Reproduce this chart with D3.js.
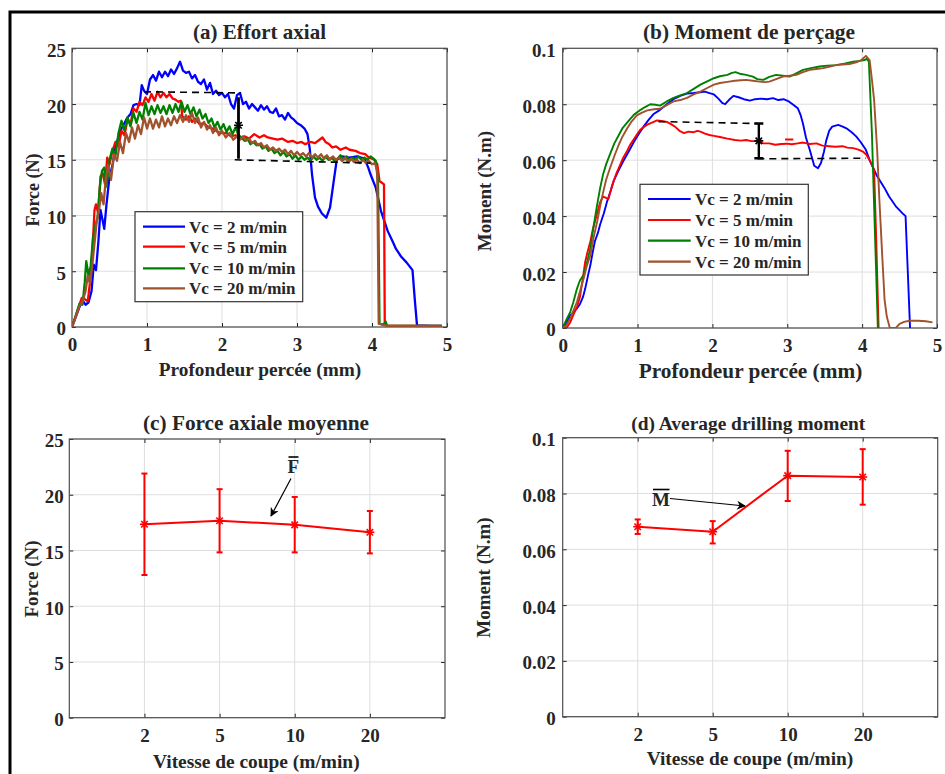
<!DOCTYPE html>
<html><head><meta charset="utf-8">
<script src="https://cdn.jsdelivr.net/npm/d3@7"></script>
<style>
html,body{margin:0;padding:0;background:#fff;}
text{font-family:"Liberation Serif","Times New Roman",serif;font-weight:bold;fill:#262626;}
</style></head>
<body><svg id="chart" width="945" height="774"></svg>
<script>
// ---------- DATA ----------
const depthTicks = [0, 1, 2, 3, 4, 5];
const forceTicks = [0, 5, 10, 15, 20, 25];
const momentTicks = [0, 0.02, 0.04, 0.06, 0.08, 0.1];
const speedPositions = [1, 2, 3, 4];
const speedLabels = ["2", "5", "10", "20"];
const seriesNames = ["Vc = 2 m/min", "Vc = 5 m/min", "Vc = 10 m/min", "Vc = 20 m/min"];
const seriesColors = ["#0000ff", "#ff0000", "#008000", "#a0522d"];

// (a) axial force vs depth [mm, N]
const force2 = [[0,0],[0.05,0.9],[0.1,1.8],[0.14,2.4],[0.18,2.0],[0.22,2.2],[0.26,3.2],[0.29,5.6],[0.32,5.1],[0.35,7.5],[0.38,10.5],[0.41,9.5],[0.43,8.8],[0.46,11.0],[0.5,13.5],[0.54,14.5],[0.58,16.2],[0.62,17.0],[0.66,17.8],[0.7,18.3],[0.74,18.8],[0.78,19.1],[0.82,19.9],[0.86,20.0],[0.9,19.9],[0.93,21.7],[0.96,21.2],[1.0,20.9],[1.04,22.2],[1.08,22.6],[1.12,22.1],[1.16,22.9],[1.2,22.4],[1.24,22.9],[1.28,22.5],[1.32,23.1],[1.36,22.7],[1.4,23.2],[1.44,23.8],[1.48,23.0],[1.52,22.8],[1.56,22.9],[1.6,22.3],[1.64,22.6],[1.68,22.0],[1.72,21.8],[1.76,22.2],[1.8,21.3],[1.84,21.9],[1.88,20.9],[1.92,21.2],[1.96,20.8],[2.0,21.0],[2.04,20.6],[2.08,20.9],[2.12,20.0],[2.16,19.6],[2.2,20.8],[2.24,21.0],[2.28,20.0],[2.32,20.2],[2.36,19.6],[2.4,20.0],[2.44,19.7],[2.48,19.4],[2.52,19.9],[2.56,19.5],[2.6,19.8],[2.64,19.3],[2.68,19.2],[2.72,19.6],[2.76,18.9],[2.8,19.0],[2.84,18.6],[2.88,19.2],[2.92,18.8],[2.96,18.6],[3.0,18.3],[3.05,18.1],[3.1,17.8],[3.14,17.3],[3.17,16.0],[3.2,13.7],[3.24,11.6],[3.28,10.8],[3.33,10.2],[3.39,9.8],[3.44,10.7],[3.49,13.1],[3.53,15.0],[3.6,15.3],[3.7,15.2],[3.8,15.3],[3.9,15.1],[3.95,14.3],[3.98,13.7],[4.05,12.5],[4.12,10.4],[4.21,8.6],[4.28,7.6],[4.32,7.0],[4.39,6.3],[4.46,5.8],[4.54,5.1],[4.57,2.5],[4.6,0.15],[4.8,0.1],[4.93,0.1]];
const force5 = [[0,0],[0.05,1.0],[0.1,2.0],[0.13,2.6],[0.17,2.5],[0.21,2.3],[0.24,4.0],[0.27,6.5],[0.3,10.5],[0.32,11.0],[0.35,10.2],[0.38,13.5],[0.41,13.8],[0.44,12.8],[0.47,15.2],[0.5,14.6],[0.54,15.8],[0.58,16.6],[0.62,16.2],[0.66,17.6],[0.7,17.2],[0.74,18.6],[0.78,18.2],[0.82,19.6],[0.86,19.3],[0.9,20.2],[0.94,19.9],[0.98,20.6],[1.02,20.2],[1.06,20.9],[1.1,20.3],[1.14,21.1],[1.18,20.6],[1.22,21.0],[1.26,20.6],[1.3,20.9],[1.34,20.5],[1.38,20.4],[1.42,20.2],[1.45,20.3],[1.47,18.9],[1.52,18.6],[1.56,18.9],[1.6,18.4],[1.64,18.7],[1.7,18.2],[1.76,18.3],[1.82,17.9],[1.88,17.8],[1.94,17.5],[2.0,17.4],[2.06,17.4],[2.12,17.1],[2.18,17.2],[2.24,16.9],[2.3,17.1],[2.36,16.9],[2.43,17.3],[2.5,17.0],[2.56,17.2],[2.61,17.0],[2.68,16.9],[2.74,16.8],[2.8,16.9],[2.88,16.6],[2.94,16.7],[3.0,16.5],[3.06,16.6],[3.11,16.4],[3.18,16.6],[3.24,16.5],[3.3,16.8],[3.34,17.0],[3.38,16.6],[3.43,16.4],[3.47,16.1],[3.52,16.2],[3.58,15.9],[3.65,16.1],[3.7,15.9],[3.78,15.8],[3.84,15.6],[3.91,15.5],[3.96,15.2],[4.03,15.0],[4.07,14.6],[4.1,13.1],[4.16,12.8],[4.17,0.5],[4.2,0.1],[4.93,0.1]];
const force10 = [[0,0],[0.05,1.0],[0.1,2.1],[0.14,2.0],[0.17,4.0],[0.19,5.9],[0.22,4.6],[0.25,5.5],[0.28,8.0],[0.31,9.0],[0.34,9.8],[0.37,12.5],[0.4,14.0],[0.43,14.3],[0.46,12.6],[0.5,15.0],[0.54,16.0],[0.58,15.4],[0.62,17.4],[0.66,18.5],[0.7,17.6],[0.74,18.8],[0.78,18.0],[0.82,19.2],[0.86,18.3],[0.9,19.3],[0.94,18.6],[0.98,20.1],[1.02,19.0],[1.06,19.8],[1.1,19.1],[1.14,19.9],[1.18,19.2],[1.22,19.8],[1.26,19.1],[1.3,19.9],[1.34,19.2],[1.38,20.0],[1.42,19.3],[1.46,20.2],[1.5,19.3],[1.54,19.9],[1.58,19.1],[1.62,19.7],[1.66,18.9],[1.7,19.5],[1.74,18.7],[1.78,19.1],[1.82,18.3],[1.86,18.7],[1.9,17.9],[1.94,18.4],[1.98,17.7],[2.02,18.2],[2.06,17.5],[2.1,18.0],[2.14,17.3],[2.18,17.9],[2.22,17.2],[2.26,17.0],[2.3,16.7],[2.34,16.9],[2.38,16.4],[2.42,16.6],[2.46,16.3],[2.5,16.4],[2.54,16.0],[2.58,16.2],[2.62,15.8],[2.66,16.0],[2.7,15.6],[2.74,15.8],[2.78,15.4],[2.82,15.7],[2.86,15.3],[2.9,15.5],[2.94,15.1],[2.98,15.4],[3.02,15.0],[3.06,15.3],[3.1,15.0],[3.14,15.2],[3.18,14.9],[3.22,15.3],[3.26,15.0],[3.3,15.2],[3.34,14.9],[3.38,15.3],[3.42,15.0],[3.46,15.2],[3.5,14.9],[3.54,15.1],[3.58,15.4],[3.62,15.0],[3.66,15.3],[3.7,14.9],[3.74,15.2],[3.78,15.0],[3.82,15.3],[3.86,15.0],[3.9,15.2],[3.94,15.0],[3.98,15.3],[4.02,15.1],[4.05,14.9],[4.08,13.0],[4.1,0.3],[4.15,0.2],[4.18,0.5],[4.2,0.1],[4.93,0.1]];
const force20 = [[0,0],[0.05,0.9],[0.1,1.9],[0.14,2.3],[0.18,3.2],[0.21,4.6],[0.24,3.9],[0.27,5.5],[0.3,7.5],[0.33,9.5],[0.36,10.5],[0.39,12.0],[0.42,11.0],[0.45,13.2],[0.48,14.5],[0.52,13.2],[0.56,15.5],[0.6,14.9],[0.64,16.6],[0.68,15.6],[0.72,17.4],[0.76,16.6],[0.8,17.9],[0.84,16.9],[0.88,18.1],[0.92,17.3],[0.96,18.8],[1.0,17.8],[1.04,18.7],[1.08,17.8],[1.12,18.6],[1.16,17.9],[1.2,18.9],[1.24,18.0],[1.28,18.7],[1.32,18.1],[1.36,18.9],[1.4,18.3],[1.44,19.0],[1.48,18.4],[1.52,19.0],[1.56,18.4],[1.6,19.2],[1.64,18.3],[1.68,18.8],[1.72,17.9],[1.76,18.4],[1.8,17.7],[1.84,18.1],[1.88,17.4],[1.92,17.9],[1.96,17.2],[2.0,17.6],[2.05,17.0],[2.1,17.4],[2.15,16.8],[2.2,17.1],[2.24,16.8],[2.28,17.1],[2.32,16.7],[2.36,16.9],[2.4,16.5],[2.44,16.7],[2.48,16.3],[2.52,16.5],[2.56,16.1],[2.6,16.3],[2.64,15.9],[2.68,16.1],[2.72,15.8],[2.76,16.0],[2.8,15.7],[2.84,15.9],[2.88,15.5],[2.92,15.8],[2.96,15.4],[3.0,15.7],[3.04,15.4],[3.08,15.6],[3.12,15.3],[3.16,15.6],[3.2,15.2],[3.24,15.5],[3.28,15.2],[3.32,15.5],[3.36,15.1],[3.4,15.4],[3.44,15.0],[3.48,15.3],[3.52,15.0],[3.56,15.2],[3.6,14.9],[3.64,15.2],[3.68,14.8],[3.72,15.1],[3.76,14.8],[3.8,15.0],[3.84,14.7],[3.88,15.0],[3.92,14.7],[3.96,14.9],[4.0,14.6],[4.04,14.7],[4.07,14.0],[4.09,0.3],[4.2,0.1],[4.5,0.1],[4.93,0.05]];

// (b) drilling moment vs depth [mm, N.m]
const moment2 = [[0,0],[0.05,0.002],[0.1,0.0045],[0.14,0.0055],[0.19,0.007],[0.23,0.0085],[0.27,0.011],[0.3,0.014],[0.34,0.019],[0.37,0.0225],[0.4,0.027],[0.43,0.031],[0.47,0.034],[0.5,0.037],[0.55,0.041],[0.59,0.045],[0.64,0.049],[0.68,0.0525],[0.74,0.056],[0.81,0.0597],[0.88,0.063],[0.95,0.0665],[1.02,0.0695],[1.08,0.072],[1.15,0.0745],[1.21,0.0764],[1.3,0.078],[1.39,0.080],[1.48,0.0818],[1.57,0.083],[1.66,0.0838],[1.75,0.084],[1.84,0.0843],[1.9,0.0845],[1.96,0.084],[2.02,0.0835],[2.08,0.082],[2.13,0.0805],[2.17,0.080],[2.22,0.0815],[2.28,0.083],[2.35,0.0825],[2.42,0.0818],[2.5,0.0813],[2.57,0.0818],[2.65,0.082],[2.73,0.0818],[2.81,0.0822],[2.88,0.0815],[2.95,0.0818],[3.02,0.081],[3.08,0.0798],[3.14,0.0786],[3.18,0.076],[3.21,0.073],[3.25,0.068],[3.3,0.0637],[3.36,0.058],[3.41,0.0571],[3.45,0.059],[3.49,0.063],[3.52,0.067],[3.56,0.0705],[3.6,0.072],[3.68,0.0726],[3.74,0.072],[3.79,0.0714],[3.86,0.070],[3.92,0.0685],[3.98,0.0665],[4.05,0.0637],[4.1,0.060],[4.14,0.0577],[4.19,0.0548],[4.23,0.053],[4.3,0.050],[4.36,0.047],[4.45,0.0435],[4.54,0.041],[4.58,0.040],[4.61,0.020],[4.64,0]];
const moment5 = [[0,0],[0.05,0],[0.1,0.002],[0.14,0.0045],[0.19,0.0075],[0.23,0.011],[0.27,0.018],[0.3,0.0236],[0.33,0.027],[0.37,0.031],[0.4,0.035],[0.43,0.038],[0.47,0.042],[0.5,0.045],[0.54,0.047],[0.58,0.0465],[0.61,0.046],[0.65,0.050],[0.68,0.0525],[0.72,0.0555],[0.77,0.0585],[0.81,0.061],[0.86,0.0633],[0.9,0.0655],[0.95,0.0675],[1.0,0.0695],[1.04,0.071],[1.09,0.072],[1.13,0.0727],[1.2,0.0735],[1.26,0.0742],[1.32,0.074],[1.39,0.0737],[1.44,0.073],[1.5,0.072],[1.56,0.0705],[1.62,0.0697],[1.68,0.0702],[1.75,0.070],[1.8,0.0705],[1.84,0.0702],[1.9,0.0695],[1.96,0.069],[2.02,0.0687],[2.1,0.0683],[2.2,0.0677],[2.3,0.0672],[2.38,0.067],[2.45,0.0672],[2.52,0.0668],[2.6,0.0668],[2.68,0.066],[2.76,0.066],[2.84,0.0655],[2.92,0.0658],[2.99,0.0659],[3.06,0.0657],[3.14,0.066],[3.21,0.0663],[3.3,0.0658],[3.39,0.066],[3.47,0.0652],[3.56,0.065],[3.64,0.0648],[3.74,0.065],[3.8,0.0645],[3.88,0.0643],[3.95,0.0638],[4.01,0.0631],[4.06,0.0618],[4.1,0.060],[4.16,0.0565],[4.19,0.03],[4.22,0]];
const moment5Fragment = [[2.97,0.0674],[3.08,0.0674]];
const moment10 = [[0,0],[0.05,0.003],[0.1,0.0057],[0.14,0.009],[0.19,0.014],[0.23,0.017],[0.28,0.019],[0.32,0.023],[0.37,0.0285],[0.41,0.036],[0.46,0.044],[0.5,0.050],[0.54,0.055],[0.58,0.0585],[0.63,0.062],[0.69,0.066],[0.75,0.069],[0.8,0.0715],[0.86,0.0734],[0.95,0.0762],[1.04,0.078],[1.1,0.079],[1.17,0.080],[1.24,0.0798],[1.3,0.0795],[1.39,0.081],[1.48,0.0823],[1.57,0.0832],[1.66,0.084],[1.75,0.0855],[1.84,0.087],[1.93,0.0882],[2.02,0.0893],[2.1,0.090],[2.2,0.0905],[2.26,0.0912],[2.31,0.0915],[2.38,0.0908],[2.45,0.0905],[2.54,0.0899],[2.6,0.089],[2.68,0.0887],[2.76,0.0898],[2.85,0.0905],[2.94,0.0902],[3.03,0.0899],[3.1,0.0908],[3.21,0.0923],[3.3,0.0928],[3.43,0.0935],[3.54,0.0938],[3.65,0.094],[3.76,0.0945],[3.88,0.0952],[3.97,0.0955],[4.03,0.0958],[4.06,0.0962],[4.09,0.0952],[4.13,0.07],[4.17,0.035],[4.21,0]];
const moment20 = [[0,0],[0.05,0.001],[0.1,0.0034],[0.14,0.006],[0.19,0.0093],[0.23,0.013],[0.28,0.0177],[0.32,0.022],[0.37,0.026],[0.41,0.032],[0.46,0.038],[0.5,0.0435],[0.54,0.0485],[0.58,0.053],[0.63,0.057],[0.69,0.0615],[0.75,0.0656],[0.8,0.0685],[0.86,0.0713],[0.92,0.0738],[0.99,0.076],[1.06,0.077],[1.13,0.0778],[1.22,0.0782],[1.3,0.0784],[1.39,0.0797],[1.48,0.081],[1.57,0.0815],[1.66,0.0823],[1.75,0.0835],[1.84,0.0845],[1.93,0.0858],[2.02,0.087],[2.1,0.0876],[2.2,0.088],[2.3,0.0884],[2.38,0.0886],[2.45,0.0887],[2.54,0.0884],[2.63,0.0881],[2.7,0.0879],[2.76,0.0881],[2.85,0.089],[2.94,0.0899],[3.03,0.0902],[3.12,0.0905],[3.21,0.0915],[3.3,0.0923],[3.39,0.0926],[3.48,0.0929],[3.57,0.0935],[3.65,0.094],[3.74,0.0942],[3.83,0.0944],[3.92,0.095],[3.99,0.0958],[4.05,0.0973],[4.1,0.0958],[4.13,0.089],[4.16,0.0815],[4.2,0.064],[4.23,0.046],[4.27,0.025],[4.3,0.01],[4.33,0.004],[4.37,0],[4.45,0],[4.5,0.0015],[4.56,0.0022],[4.63,0.0026],[4.75,0.0026],[4.85,0.0024],[4.94,0.002]];

// dashed guides and range bars on (a) and (b)
const forceDashTop = [[0.96,21.1],[2.25,21.0]];
const forceDashBottom = [[2.17,15.0],[3.98,14.7]];
const forceRange = [2.22, 15.1, 18.1, 20.6];   // depth, low, mean, high
const momentDashTop = [[1.28,0.0738],[2.6,0.0731]];
const momentDashBottom = [[2.6,0.0605],[4.05,0.0607]];
const momentRange = [2.62, 0.0607, 0.0669, 0.0731];

// (c) mean axial force per cutting speed
const meanForce = [17.35, 17.67, 17.3, 16.63];
const forceLow = [12.8, 14.83, 14.83, 14.74];
const forceHigh = [21.9, 20.5, 19.8, 18.54];
// (d) mean drilling moment per cutting speed
const meanMoment = [0.0681, 0.0663, 0.0864, 0.0859];
const momentLow = [0.0655, 0.0621, 0.0773, 0.0760];
const momentHigh = [0.0707, 0.0701, 0.0953, 0.0959];

// ---------- DRAWING ----------
const svg = d3.select("#chart");
const FONT = '"Liberation Serif","Times New Roman",serif';
const TXT = "#262626";

svg.append("rect").attr("x", 10).attr("y", 12).attr("width", 1000).attr("height", 1000)
  .attr("fill", "none").attr("stroke", "#000").attr("stroke-width", 3);

let clipId = 0;
function makePanel(o) {
  const x = d3.scaleLinear().domain([0, 5]).range([o.l, o.r]);
  const y = d3.scaleLinear().domain(o.yDomain).range([o.b, o.t]);
  const g = svg.append("g");
  g.append("rect").attr("x", o.l).attr("y", o.t).attr("width", o.r - o.l).attr("height", o.b - o.t).attr("fill", "#fff");
  // grid
  g.append("g").selectAll("line").data(o.xTicks).join("line")
    .attr("x1", d => x(d)).attr("x2", d => x(d)).attr("y1", o.t).attr("y2", o.b)
    .attr("stroke", "#dedede").attr("stroke-width", 1);
  g.append("g").selectAll("line").data(o.yTicks).join("line")
    .attr("x1", o.l).attr("x2", o.r).attr("y1", d => y(d)).attr("y2", d => y(d))
    .attr("stroke", "#dedede").attr("stroke-width", 1);
  // axes
  const fmtX = o.xLabels ? (d => o.xLabels[o.xTicks.indexOf(d)]) : d3.format("d");
  const ax = g.append("g").attr("transform", `translate(0,${o.b})`)
    .call(d3.axisBottom(x).tickValues(o.xTicks).tickSize(-4).tickSizeOuter(0).tickFormat(fmtX));
  ax.selectAll("text").attr("dy", null).attr("y", 24);
  const axT = g.append("g").attr("transform", `translate(0,${o.t})`)
    .call(d3.axisTop(x).tickValues(o.xTicks).tickSize(-4).tickSizeOuter(0).tickFormat(""));
  const ay = g.append("g").attr("transform", `translate(${o.l},0)`)
    .call(d3.axisLeft(y).tickValues(o.yTicks).tickSize(-4).tickSizeOuter(0).tickFormat(o.yFormat));
  ay.selectAll("text").attr("dy", "0.42em").attr("x", -o.yPad);
  const ayR = g.append("g").attr("transform", `translate(${o.r},0)`)
    .call(d3.axisRight(y).tickValues(o.yTicks).tickSize(-4).tickSizeOuter(0).tickFormat(""));
  [ax, axT, ay, ayR].forEach(a => {
    a.attr("font-family", FONT).attr("font-size", 19);
    a.select(".domain").remove();
    a.selectAll("line").attr("stroke", "#262626").attr("stroke-width", 1);
    a.selectAll("text").attr("fill", TXT).attr("font-family", FONT).attr("font-weight", "bold").attr("font-size", 19);
  });
  g.append("rect").attr("x", o.l).attr("y", o.t).attr("width", o.r - o.l).attr("height", o.b - o.t)
    .attr("fill", "none").attr("stroke", "#4d4d4d").attr("stroke-width", 1.2);
  // titles
  g.append("text").attr("x", o.titleX).attr("y", o.titleY).attr("text-anchor", "middle")
    .attr("font-size", o.titleSize).text(o.title);
  g.append("text").attr("x", o.xlabX).attr("y", o.xlabY).attr("text-anchor", "middle")
    .attr("font-size", o.xlabSize).text(o.xlab);
  g.append("text").attr("transform", `translate(${o.ylabX},${o.ylabY}) rotate(-90)`).attr("text-anchor", "middle")
    .attr("font-size", o.ylabSize).text(o.ylab);
  const id = "clip" + (clipId++);
  svg.append("clipPath").attr("id", id).append("rect")
    .attr("x", o.l).attr("y", o.t).attr("width", o.r - o.l).attr("height", o.b - o.t);
  const plot = g.append("g").attr("clip-path", `url(#${id})`);
  return { x, y, g, plot };
}

function star(g, cx, cy, r, color, w) {
  const d = r * 0.72;
  const segs = [[-r, 0, r, 0], [0, -r, 0, r], [-d, -d, d, d], [-d, d, d, -d]];
  g.append("g").selectAll("line").data(segs).join("line")
    .attr("x1", s => cx + s[0]).attr("y1", s => cy + s[1]).attr("x2", s => cx + s[2]).attr("y2", s => cy + s[3])
    .attr("stroke", color).attr("stroke-width", w);
}

function legend(g, x0, y0, w, h, rows, lx1, lx2, tx) {
  g.append("rect").attr("x", x0).attr("y", y0).attr("width", w).attr("height", h)
    .attr("fill", "#fff").attr("stroke", "#333").attr("stroke-width", 1.2);
  seriesNames.forEach((n, i) => {
    g.append("line").attr("x1", lx1).attr("x2", lx2).attr("y1", rows[i]).attr("y2", rows[i])
      .attr("stroke", seriesColors[i]).attr("stroke-width", 2.2);
    g.append("text").attr("x", tx).attr("y", rows[i] + 6).attr("font-size", 17).text(n);
  });
}

// ---- Panel (a)
const A = makePanel({ l: 72, r: 447, t: 48.3, b: 327, yDomain: [0, 25], xTicks: depthTicks, yTicks: forceTicks,
  yFormat: d3.format("d"), yPad: 6, title: "(a) Effort axial", titleX: 259.5, titleY: 39, titleSize: 21,
  xlab: "Profondeur percée (mm)", xlabX: 260, xlabY: 376, xlabSize: 19.3,
  ylab: "Force (N)", ylabX: 39, ylabY: 190, ylabSize: 18 });
const lineA = d3.line().x(d => A.x(d[0])).y(d => A.y(d[1]));
[force2, force5, force10, force20].forEach((s, i) => {
  A.plot.append("path").datum(s).attr("d", lineA).attr("fill", "none")
    .attr("stroke", seriesColors[i]).attr("stroke-width", 2.3).attr("stroke-linejoin", "round");
});
[forceDashTop, forceDashBottom].forEach(s => {
  A.plot.append("path").datum(s).attr("d", lineA).attr("fill", "none").attr("stroke", "#000")
    .attr("stroke-width", 1.6).attr("stroke-dasharray", "7,5");
});
A.plot.append("line").attr("x1", A.x(forceRange[0])).attr("x2", A.x(forceRange[0]))
  .attr("y1", A.y(forceRange[1])).attr("y2", A.y(forceRange[3])).attr("stroke", "#000").attr("stroke-width", 2.8);
star(A.plot, A.x(forceRange[0]), A.y(forceRange[2]), 4.5, "#000", 1.6);
legend(A.g, 135, 211.7, 167.7, 90, [226.7, 246.7, 268.3, 288.3], 143, 185, 189);

// ---- Panel (b)
const B = makePanel({ l: 562.7, r: 937, t: 48.3, b: 328, yDomain: [0, 0.1], xTicks: depthTicks, yTicks: momentTicks,
  yFormat: d => d === 0 ? "0" : String(+d.toFixed(2)), yPad: 7, title: "(b) Moment de perçage", titleX: 749, titleY: 39, titleSize: 21.4,
  xlab: "Profondeur percée (mm)", xlabX: 750.5, xlabY: 378, xlabSize: 21.3,
  ylab: "Moment (N.m)", ylabX: 491, ylabY: 191, ylabSize: 19 });
const lineB = d3.line().x(d => B.x(d[0])).y(d => B.y(d[1]));
[moment2, moment5, moment10, moment20].forEach((s, i) => {
  B.plot.append("path").datum(s).attr("d", lineB).attr("fill", "none")
    .attr("stroke", seriesColors[i]).attr("stroke-width", 1.9).attr("stroke-linejoin", "round");
});
B.plot.append("path").datum(moment5Fragment).attr("d", lineB).attr("fill", "none")
  .attr("stroke", seriesColors[1]).attr("stroke-width", 1.9);
[momentDashTop, momentDashBottom].forEach(s => {
  B.plot.append("path").datum(s).attr("d", lineB).attr("fill", "none").attr("stroke", "#000")
    .attr("stroke-width", 1.6).attr("stroke-dasharray", "7,5");
});
{
  const bx = B.x(momentRange[0]);
  B.plot.append("line").attr("x1", bx).attr("x2", bx).attr("y1", B.y(momentRange[1])).attr("y2", B.y(momentRange[3]))
    .attr("stroke", "#000").attr("stroke-width", 2.4);
  [momentRange[1], momentRange[3]].forEach(v => B.plot.append("line").attr("x1", bx - 4.5).attr("x2", bx + 4.5)
    .attr("y1", B.y(v)).attr("y2", B.y(v)).attr("stroke", "#000").attr("stroke-width", 2.4));
  star(B.plot, bx, B.y(momentRange[2]), 4.5, "#000", 1.6);
}
legend(B.g, 640, 184.3, 168.3, 90.7, [199, 220, 240.7, 261.7], 648, 690.7, 695);

// arrow marker
svg.append("defs").append("marker").attr("id", "arrow").attr("viewBox", "0 0 10 10")
  .attr("refX", 9).attr("refY", 5).attr("markerWidth", 11).attr("markerHeight", 9).attr("markerUnits", "userSpaceOnUse")
  .attr("orient", "auto").append("path").attr("d", "M0,0 L10,5 L0,10 L3,5 Z").attr("fill", "#000");

// ---- Panel (c)
const C = makePanel({ l: 69.3, r: 445, t: 439, b: 717.7, yDomain: [0, 25], xTicks: speedPositions, xLabels: speedLabels,
  yTicks: forceTicks, yFormat: d3.format("d"), yPad: 5.5, title: "(c) Force axiale moyenne", titleX: 256, titleY: 429.5, titleSize: 21.3,
  xlab: "Vitesse de coupe (m/min)", xlabX: 256.3, xlabY: 768, xlabSize: 19.4,
  ylab: "Force (N)", ylabX: 37.5, ylabY: 579, ylabSize: 19 });
{
  const pts = meanForce.map((v, i) => [speedPositions[i], v]);
  C.g.append("path").datum(pts).attr("d", d3.line().x(d => C.x(d[0])).y(d => C.y(d[1])))
    .attr("fill", "none").attr("stroke", "#ff0000").attr("stroke-width", 2);
  speedPositions.forEach((p, i) => {
    const cx = C.x(p);
    C.g.append("line").attr("x1", cx).attr("x2", cx).attr("y1", C.y(forceLow[i])).attr("y2", C.y(forceHigh[i]))
      .attr("stroke", "#ff0000").attr("stroke-width", 2);
    [forceLow[i], forceHigh[i]].forEach(v => C.g.append("line").attr("x1", cx - 3).attr("x2", cx + 3)
      .attr("y1", C.y(v)).attr("y2", C.y(v)).attr("stroke", "#ff0000").attr("stroke-width", 2));
    star(C.g, cx, C.y(meanForce[i]), 4.5, "#ff0000", 1.6);
  });
  C.g.append("text").attr("x", 293.3).attr("y", 472.7).attr("text-anchor", "middle").attr("font-size", 19).text("F");
  C.g.append("line").attr("x1", 288.5).attr("x2", 298.5).attr("y1", 457).attr("y2", 457).attr("stroke", "#000").attr("stroke-width", 1.6);
  C.g.append("line").attr("x1", 291).attr("y1", 478.5).attr("x2", 271).attr("y2", 516)
    .attr("stroke", "#000").attr("stroke-width", 1.2).attr("marker-end", "url(#arrow)");
}

// ---- Panel (d)
const D = makePanel({ l: 562.7, r: 937.7, t: 437.7, b: 716.7, yDomain: [0, 0.1], xTicks: speedPositions, xLabels: speedLabels,
  yTicks: momentTicks, yFormat: d => d === 0 ? "0" : String(+d.toFixed(2)), yPad: 7, title: "(d) Average drilling moment",
  titleX: 748.3, titleY: 430, titleSize: 19.4,
  xlab: "Vitesse de coupe (m/min)", xlabX: 750, xlabY: 765, xlabSize: 19.4,
  ylab: "Moment (N.m)", ylabX: 489.5, ylabY: 577.5, ylabSize: 19 });
{
  const pts = meanMoment.map((v, i) => [speedPositions[i], v]);
  D.g.append("path").datum(pts).attr("d", d3.line().x(d => D.x(d[0])).y(d => D.y(d[1])))
    .attr("fill", "none").attr("stroke", "#ff0000").attr("stroke-width", 2);
  speedPositions.forEach((p, i) => {
    const cx = D.x(p);
    D.g.append("line").attr("x1", cx).attr("x2", cx).attr("y1", D.y(momentLow[i])).attr("y2", D.y(momentHigh[i]))
      .attr("stroke", "#ff0000").attr("stroke-width", 2);
    [momentLow[i], momentHigh[i]].forEach(v => D.g.append("line").attr("x1", cx - 3).attr("x2", cx + 3)
      .attr("y1", D.y(v)).attr("y2", D.y(v)).attr("stroke", "#ff0000").attr("stroke-width", 2));
    star(D.g, cx, D.y(meanMoment[i]), 4.5, "#ff0000", 1.6);
  });
  D.g.append("text").attr("x", 661).attr("y", 505.7).attr("text-anchor", "middle").attr("font-size", 19).text("M");
  D.g.append("line").attr("x1", 653).attr("x2", 669.5).attr("y1", 489.5).attr("y2", 489.5).attr("stroke", "#000").attr("stroke-width", 1.6);
  D.g.append("line").attr("x1", 670).attr("y1", 498.5).attr("x2", 745).attr("y2", 506)
    .attr("stroke", "#000").attr("stroke-width", 1.2).attr("marker-end", "url(#arrow)");
}
</script></body></html>
